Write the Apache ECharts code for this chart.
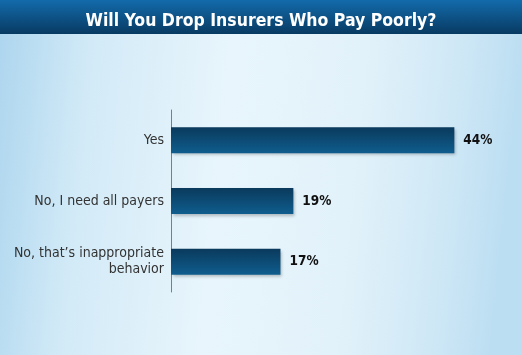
<!DOCTYPE html>
<html>
<head>
<meta charset="utf-8">
<style>
html,body{margin:0;padding:0;width:522px;height:355px;overflow:hidden;}
#chart{width:522px;height:355px;}
</style>
<script src="https://cdn.jsdelivr.net/npm/echarts@6/dist/echarts.min.js"></script>
</head>
<body>
<div id="chart"></div>
<script>
const titleText = 'Will You Drop Insurers Who Pay Poorly?';
const categories = ['Yes', 'No, I need all payers', 'No, that\u2019s inappropriate\nbehavior'];
const values = [44, 19, 17];
const valueLabels = ['44%', '19%', '17%'];

const FONT = 'Liberation Sans Narrow, DejaVu Sans Condensed, Arial Narrow, sans-serif';
const chart = echarts.init(document.getElementById('chart'), null, {renderer: 'canvas'});
const option = {
  animation: false,
  backgroundColor: {
    type: 'linear', x: 0, y: 0, x2: 1, y2: 0.15,
    colorStops: [
      {offset: 0, color: '#acd5ee'},
      {offset: 0.18, color: '#d2eaf7'},
      {offset: 0.45, color: '#e8f5fc'},
      {offset: 0.7, color: '#e2f2fa'},
      {offset: 0.88, color: '#cfe8f6'},
      {offset: 1, color: '#bcdef2'}
    ]
  },
  graphic: [
    {
      type: 'rect', left: 0, top: 0, z: 0,
      shape: {width: 522, height: 34},
      style: {
        fill: {
          type: 'linear', x: 0, y: 0, x2: 0, y2: 1,
          colorStops: [
            {offset: 0, color: '#136bab'},
            {offset: 1, color: '#083a62'}
          ]
        }
      }
    }
  ],
  title: {
    text: titleText,
    left: 'center',
    top: 7,
    textStyle: {
      color: '#ffffff',
      fontFamily: FONT,
      fontWeight: 'bold',
      fontSize: 17.5
    }
  },
  grid: {left: 171, right: 29, top: 110, bottom: 63, containLabel: false},
  xAxis: {
    type: 'value', min: 0, max: 50,
    show: false
  },
  yAxis: {
    type: 'category',
    data: categories,
    inverse: true,
    axisLine: {show: true, lineStyle: {color: '#7a7f84', width: 1}},
    axisTick: {show: false},
    axisLabel: {
      color: '#333333',
      fontSize: 14,
      lineHeight: 16,
      margin: 7,
      fontFamily: FONT,
      align: 'right'
    }
  },
  series: [{
    type: 'bar',
    data: values,
    barWidth: 26,
    itemStyle: {
      color: {
        type: 'linear', x: 0, y: 0, x2: 0, y2: 1,
        colorStops: [
          {offset: 0, color: '#0a3a5c'},
          {offset: 1, color: '#0f5d8e'}
        ]
      },
      shadowColor: 'rgba(0,0,0,0.25)',
      shadowBlur: 3,
      shadowOffsetX: 2,
      shadowOffsetY: 2
    },
    label: {
      show: true,
      position: 'right',
      distance: 9,
      formatter: function (p) { return valueLabels[p.dataIndex]; },
      color: '#111111',
      fontWeight: 'bold',
      fontSize: 13.5,
      fontFamily: FONT
    }
  }]
};
chart.setOption(option);
</script>
</body>
</html>
